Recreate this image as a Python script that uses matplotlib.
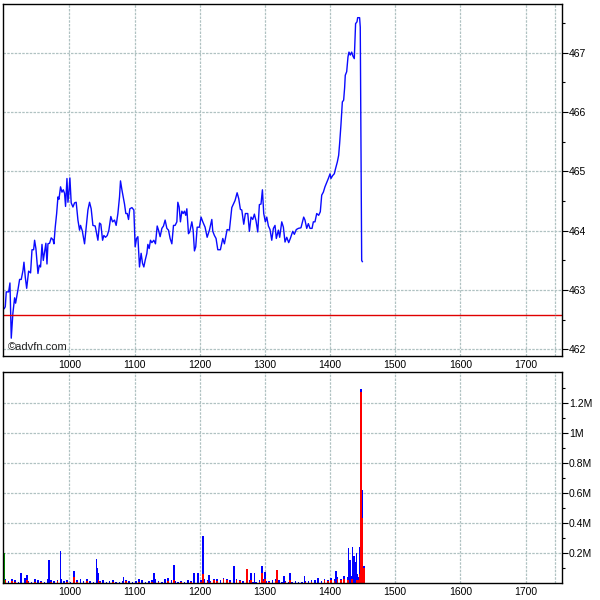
import numpy as np
from matplotlib import pyplot as plt
from matplotlib.ticker import FixedLocator, FuncFormatter

# Intraday price (minutes after 09:00, price)
price_minutes = [
    0.0, 0.9, 1.8, 4.0, 5.2, 6.4, 7.9, 9.5, 10.4, 12.6, 14.1, 15.6, 17.2, 18.1, 19.3,
    20.6, 22.4, 24.2, 25.5, 27.0, 27.9, 29.1, 31.0, 32.2, 33.4, 34.7, 35.9, 37.1, 38.3,
    39.3, 40.2, 41.7, 43.2, 44.8, 45.7, 46.9, 48.2, 49.4, 50.3, 51.8, 53.1, 54.3, 55.5,
    56.4, 57.7, 58.6, 59.5, 60.4, 61.6, 63.2, 64.7, 66.2, 67.8, 69.3, 70.2, 71.8, 73.9,
    75.4, 77.0, 78.5, 80.0, 81.6, 83.7, 86.2, 87.7, 88.9, 90.5, 91.7, 93.2, 94.8, 96.3,
    98.1, 99.7, 101.5, 103.0, 104.6, 106.1, 107.0, 108.3, 109.5, 110.7, 111.9, 113.2,
    114.4, 115.6, 117.5, 119.3, 120.5, 121.8, 123.0, 124.5, 126.0, 127.3, 128.5, 129.7,
    131.3, 132.2, 133.4, 134.6, 135.9, 137.7, 139.2, 140.8, 142.0, 143.5, 145.1, 146.6,
    148.1, 149.7, 151.2, 152.7, 154.3, 155.8, 157.3, 158.9, 159.8, 161.0, 162.2, 163.5,
    164.7, 165.9, 167.1, 168.1, 169.6, 170.8, 172.7, 173.9, 175.1, 176.3, 177.6, 179.7,
    181.2, 182.8, 184.9, 186.8, 188.9, 191.1, 192.0, 193.5, 195.0, 196.6, 199.0, 201.2,
    202.7, 205.2, 207.3, 209.5, 211.3, 212.5, 214.4, 215.9, 217.4, 218.7, 220.5, 222.0,
    224.2, 225.7, 227.2, 228.8, 230.3, 231.8, 233.4, 234.9, 236.4, 237.7, 238.9, 240.4,
    241.7, 243.2, 244.7, 246.3, 247.8, 249.3, 250.5, 252.4, 253.6, 255.5, 257.0, 258.5,
    260.1, 261.9, 263.4, 265.6, 267.1, 268.9, 270.8, 273.2, 275.7, 276.9, 278.5, 280.0,
    281.5, 283.4, 284.6, 286.1, 287.7, 289.5, 291.0, 292.3, 293.8, 295.3, 296.9, 298.4,
    300.0, 300.8, 302.4, 303.9, 305.1, 306.7, 307.9, 308.8, 310.0, 311.3, 312.5, 313.4,
    314.0, 315.3, 316.5, 317.4, 318.6, 319.9, 321.1, 322.3, 322.9, 323.5, 324.8, 325.4,
    327.2, 327.8, 329.1, 329.7,
]
price = [
    462.69, 462.72, 462.97, 462.97, 463.12, 462.19, 462.61, 462.87, 462.78, 463.01, 463.18,
    463.18, 463.33, 463.47, 463.22, 463.03, 463.32, 463.29, 463.68, 463.68, 463.84, 463.70,
    463.28, 463.42, 463.39, 463.77, 463.50, 463.64, 463.79, 463.44, 463.78, 463.79, 463.88,
    463.85, 463.78, 464.06, 464.29, 464.57, 464.53, 464.74, 464.65, 464.69, 464.63, 464.41,
    464.88, 464.48, 464.65, 464.89, 464.47, 464.40, 464.47, 464.48, 464.18, 464.01, 464.09,
    464.00, 463.78, 464.06, 464.35, 464.48, 464.37, 464.09, 464.08, 463.84, 464.13, 464.11,
    463.84, 463.92, 463.89, 463.92, 464.01, 464.24, 464.15, 464.18, 464.09, 464.29, 464.57,
    464.84, 464.69, 464.57, 464.45, 464.29, 464.29, 464.19, 464.37, 464.39, 464.35, 463.73,
    463.87, 463.90, 463.39, 463.62, 463.45, 463.39, 463.50, 463.62, 463.77, 463.70, 463.84,
    463.80, 463.84, 463.78, 464.08, 464.01, 463.90, 464.04, 464.08, 464.18, 464.04, 464.01,
    463.87, 463.78, 464.09, 464.09, 464.15, 464.48, 464.40, 464.15, 464.33, 464.29, 464.33,
    464.26, 464.37, 463.95, 463.98, 464.15, 464.01, 463.66, 463.73, 464.06, 464.06, 464.23,
    464.15, 464.06, 463.89, 464.01, 464.19, 463.99, 463.92, 463.87, 463.68, 463.68, 463.87,
    463.78, 464.02, 464.01, 464.39, 464.46, 464.51, 464.64, 464.54, 464.36, 464.35, 464.11,
    464.29, 464.29, 463.99, 464.23, 464.19, 464.28, 464.17, 463.98, 464.44, 464.45, 464.69,
    464.29, 464.15, 464.23, 464.08, 464.02, 463.84, 464.04, 464.09, 463.87, 464.01, 463.89,
    464.15, 464.06, 463.81, 463.89, 463.80, 463.87, 463.99, 463.94, 464.02, 464.04, 464.05,
    464.23, 464.18, 464.04, 464.12, 464.04, 464.04, 464.15, 464.15, 464.29, 464.26, 464.32,
    464.60, 464.65, 464.74, 464.81, 464.88, 464.96, 464.88, 464.93, 464.96, 465.05, 465.16,
    465.27, 465.47, 465.78, 466.17, 466.20, 466.41, 466.62, 466.68, 466.93, 467.01, 466.96,
    467.01, 466.94, 466.90, 467.21, 467.49, 467.52, 467.59, 467.59, 467.43, 463.50, 463.48,
]
prev_close = 462.58

# Volume: background trades every 3 minutes (thousands of shares)
bg_start, bg_step = 1, 3
bg_volume = [
    30, 12, 25, 18, 8, 22, 35, 15, 10, 28, 20, 14, 9, 26, 18, 12, 20, 30, 15, 22,
    10, 8, 18, 25, 12, 30, 16, 10, 6, 14, 20, 9, 12, 18, 7, 10, 15, 22, 11, 8,
    14, 25, 18, 9, 12, 20, 30, 15, 10, 24, 35, 18, 12, 8, 16, 10, 22, 14, 9, 6,
    18, 26, 20, 15, 30, 24, 18, 35, 28, 22, 16, 30, 20, 14, 25, 18, 10, 8, 22, 30,
    15, 12, 20, 26, 18, 10, 14, 8, 6, 12, 10, 8, 15, 12, 20, 18, 25, 14, 30, 22,
    35, 28, 40, 30, 45, 38, 50, 42, 60, 55,
]
bg_red = [
    20, 0, 15, 10, 0, 12, 0, 8, 0, 10, 0, 6, 0, 0, 10, 0, 12, 0, 0, 8,
    0, 0, 6, 0, 0, 12, 0, 0, 0, 8, 0, 0, 0, 10, 0, 0, 0, 12, 0, 0,
    0, 10, 0, 0, 0, 8, 0, 10, 0, 0, 15, 0, 0, 0, 10, 0, 0, 8, 0, 0,
    10, 0, 12, 8, 20, 15, 0, 25, 18, 10, 8, 20, 12, 0, 15, 10, 0, 0, 10, 15,
    0, 8, 0, 12, 0, 0, 8, 0, 0, 0, 0, 0, 8, 0, 10, 0, 15, 0, 20, 12,
    20, 15, 25, 18, 30, 20, 30, 25, 35, 40,
]

# Larger prints (minutes after 09:00, total volume in M, red part in M)
big_minutes = [15.4, 20.7, 41.3, 51.9, 63.9, 84.8, 85.8, 86.9, 109.9, 138.1, 156.2,
               174.9, 178.1, 182.7, 188.7, 211.7, 223.4, 226.9, 230.4, 237.5, 240.0,
               251.3, 257.7, 263.3, 276.4, 289.1, 305.4, 317.1, 318.5, 320.6, 322.0,
               323.4, 324.5, 325.9, 327.3, 328.4, 329.8, 331.2]
big_volume = [0.07, 0.055, 0.155, 0.215, 0.08, 0.16, 0.10, 0.07, 0.04, 0.07, 0.12,
              0.065, 0.065, 0.315, 0.055, 0.11, 0.095, 0.07, 0.065, 0.115, 0.075,
              0.09, 0.05, 0.065, 0.05, 0.035, 0.08, 0.235, 0.155, 0.24, 0.18,
              0.14, 0.20, 0.04, 0.24, 1.29, 0.62, 0.11]
big_red = [0.0, 0.02, 0.0, 0.0, 0.04, 0.0, 0.0, 0.02, 0.0, 0.0, 0.02,
           0.0, 0.0, 0.06, 0.0, 0.0, 0.095, 0.02, 0.0, 0.07, 0.03,
           0.085, 0.0, 0.02, 0.0, 0.0, 0.0, 0.02, 0.0, 0.03, 0.0,
           0.0, 0.02, 0.02, 0.06, 1.27, 0.43, 0.10]
open_auction = 0.20

hour_ticks = [10, 11, 12, 13, 14, 15, 16, 17]
close_line = 17.45

plt.rcParams['font.family'] = ['Liberation Sans', 'DejaVu Sans']
grid_color = '#b0c2c2'

fig = plt.figure(figsize=(6, 6), dpi=100)
ax1 = fig.add_axes([0.005, 0.4067, 0.9317, 0.5866])
ax2 = fig.add_axes([0.005, 0.0283, 0.9317, 0.3517])

# Price panel
t_price = 9 + np.array(price_minutes) / 60
ax1.plot(t_price, price, color='#0a0aff', lw=1)
ax1.axhline(prev_close, color='#e00000', lw=1)
ax1.set_ylim(461.89, 467.82)
ax1.yaxis.set_major_locator(FixedLocator([462, 463, 464, 465, 466, 467]))
ax1.yaxis.set_minor_locator(FixedLocator([462.5, 463.5, 464.5, 465.5, 466.5, 467.5]))
ax1.text(0.008, 0.012, '©advfn.com', transform=ax1.transAxes, fontsize=8,
         color='#222222', ha='left', va='bottom')

# Volume panel
bg_t = 9 + (bg_start + bg_step * np.arange(len(bg_volume))) / 60
bg_v = np.array(bg_volume) * 1000
bg_r = np.array(bg_red) * 1000
big_t = 9 + np.array(big_minutes) / 60
big_v = np.array(big_volume) * 1e6
big_r = np.array(big_red) * 1e6
w = 1.5 / 60
ax2.bar(bg_t, bg_v, width=w, color='#0000ff', linewidth=0)
ax2.bar(bg_t, bg_r, width=w, color='#ff0000', linewidth=0)
ax2.bar(big_t, big_v, width=w, color='#0000ff', linewidth=0)
ax2.bar(big_t, big_r, width=w, color='#ff0000', linewidth=0)
ax2.bar(9.0, open_auction * 1e6, width=0.6 / 60, color='#00a000', linewidth=0, align='edge')
ax2.set_ylim(0, 1.405e6)
ax2.yaxis.set_major_locator(FixedLocator([0.2e6, 0.4e6, 0.6e6, 0.8e6, 1.0e6, 1.2e6]))
ax2.yaxis.set_minor_locator(FixedLocator([0.1e6, 0.3e6, 0.5e6, 0.7e6, 0.9e6, 1.1e6, 1.3e6]))
ax2.yaxis.set_major_formatter(FuncFormatter(lambda v, p: '%gM' % round(v / 1e6, 1)))

for ax in (ax1, ax2):
    ax.set_xlim(8.98, 17.56)
    ax.set_xticks(hour_ticks)
    ax.set_xticklabels(['%d00' % h for h in hour_ticks])
    ax.axvline(close_line, color=grid_color, lw=0.9, ls=(0, (2, 1)))
    ax.yaxis.tick_right()
    ax.tick_params(axis='y', which='major', direction='out', length=4, width=0.8,
                   pad=1, labelsize=7.5)
    ax.tick_params(axis='y', which='minor', direction='out', length=2, width=0.8)
    ax.tick_params(axis='x', length=0, pad=3, labelsize=7.5)
    ax.grid(color=grid_color, linestyle=(0, (2, 1)), linewidth=0.9)
    ax.set_axisbelow(True)
    for s in ax.spines.values():
        s.set_color('black')
        s.set_linewidth(1)

plt.savefig('out.png', dpi=100)
